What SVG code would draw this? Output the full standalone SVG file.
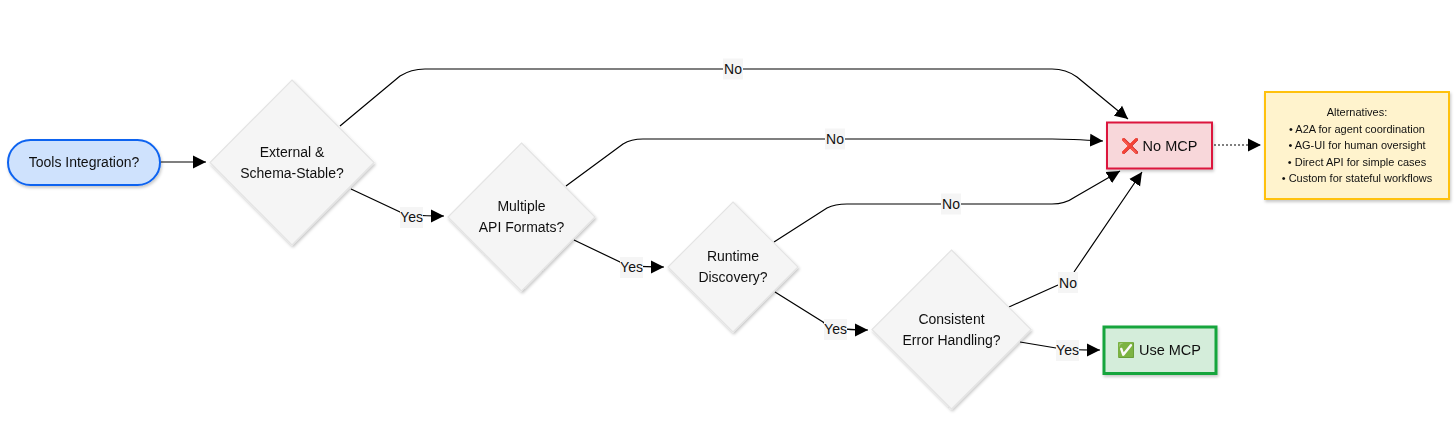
<svg xmlns="http://www.w3.org/2000/svg" width="1456" height="428" viewBox="0 0 1456 428">
<style>
text{font-family:"Liberation Sans",Arial,sans-serif;font-size:14px;fill:#111;text-anchor:middle}
.n{filter:url(#s)}
.d{fill:#f5f5f5;stroke:#e4e4e4;stroke-width:1.2}
.c{fill:none;stroke:#000;stroke-width:1.2;marker-end:url(#a)}
.l{fill:#f5f5f5}
.alt{font-size:11px}
.big{font-size:14.500px}
</style>
<defs>
<marker id="a" markerUnits="userSpaceOnUse" markerWidth="14" markerHeight="14" refX="13" refY="7" orient="auto"><path d="M0 0.500L13 7L0 13.500Z" fill="#000"/></marker>
<filter id="s" x="-10%" y="-10%" width="125%" height="125%"><feDropShadow dx="1" dy="2" stdDeviation="1.5" flood-color="#000" flood-opacity=".22"/></filter>
</defs>
<rect width="1456" height="428" fill="#fff"/>
<g id="connectors">
<path class="c" d="M161 162H206"/>
<path class="c" d="M340 126L400 76Q411 69 425 69H1052Q1066 69 1077 77L1128 119"/>
<path class="c" d="M351 189L400 212Q405 216 444 216"/>
<path class="c" d="M566 186L623 144Q631 139 643 139H1052Q1070 139 1103 141"/>
<path class="c" d="M574 240L620 262Q625 267 664 267"/>
<path class="c" d="M774 242L827 208Q835 204 847 204H1052Q1065 204 1075 197L1120 171"/>
<path class="c" d="M775 292L823 322Q830 330 868 330"/>
<path class="c" d="M1009 307L1058 285Q1068 280 1074 272L1142 172"/>
<path class="c" d="M1020 342L1056 348Q1065 350 1100 350"/>
<path class="c" d="M1214 145H1261" stroke-width="1" stroke-dasharray="2 2"/>
</g>
<g id="edge-labels">
<rect class="l" x="723" y="58.500" width="20" height="21"/><text x="733" y="74">No</text>
<rect class="l" x="825" y="128.500" width="20" height="21"/><text x="835" y="144">No</text>
<rect class="l" x="941" y="193.500" width="20" height="21"/><text x="951" y="209">No</text>
<rect class="l" x="1058" y="272" width="20" height="21"/><text x="1068" y="288">No</text>
<rect class="l" x="400" y="207" width="23" height="21"/><text x="411.500" y="222">Yes</text>
<rect class="l" x="620" y="257" width="23" height="21"/><text x="631.500" y="272">Yes</text>
<rect class="l" x="824" y="319" width="23" height="21"/><text x="835.500" y="334">Yes</text>
<rect class="l" x="1056" y="340" width="23" height="21"/><text x="1067.500" y="355">Yes</text>
</g>
<g id="start" class="n"><rect x="8" y="140" width="152" height="45" rx="22.500" fill="#cfe2fd" stroke="#0d63f0" stroke-width="2"/><text x="84" y="167">Tools Integration?</text></g>
<g id="q1" class="n"><path class="d" d="M292 80L374 162.500L292 245L210 162.500Z"/><text x="292" y="157">External &amp;</text><text x="292" y="178">Schema-Stable?</text></g>
<g id="q2" class="n"><path class="d" d="M521.500 143L595 217L521.500 291L448 217Z"/><text x="521.500" y="211">Multiple</text><text x="521.500" y="232">API Formats?</text></g>
<g id="q3" class="n"><path class="d" d="M733 202L798 267L733 332L668 267Z"/><text x="733" y="261">Runtime</text><text x="733" y="282">Discovery?</text></g>
<g id="q4" class="n"><path class="d" d="M951.500 250L1031 329.500L951.500 409L872 329.500Z"/><text x="951.500" y="324">Consistent</text><text x="951.500" y="345">Error Handling?</text></g>
<g id="no-mcp" class="n"><rect x="1107" y="122.500" width="105" height="46" fill="#f8d7da" stroke="#dc143c" stroke-width="2"/><text class="big" x="1159" y="151"><tspan fill="#e8000d" stroke="#e8000d" stroke-width=".5">❌</tspan> No MCP</text></g>
<g id="use-mcp" class="n"><rect x="1104" y="327" width="112" height="46.500" fill="#d4edda" stroke="#16a53c" stroke-width="3"/><text class="big" x="1159" y="355"><tspan fill="#16a53c">✅</tspan> Use MCP</text></g>
<g id="alternatives" class="n"><rect x="1265" y="92" width="184" height="107" fill="#fff3cd" stroke="#ffc107" stroke-width="2"/>
<text class="alt" x="1357" y="116">Alternatives:</text>
<text class="alt" x="1357" y="133">• A2A for agent coordination</text>
<text class="alt" x="1357" y="149">• AG-UI for human oversight</text>
<text class="alt" x="1357" y="166">• Direct API for simple cases</text>
<text class="alt" x="1357" y="182">• Custom for stateful workflows</text></g>
</svg>
